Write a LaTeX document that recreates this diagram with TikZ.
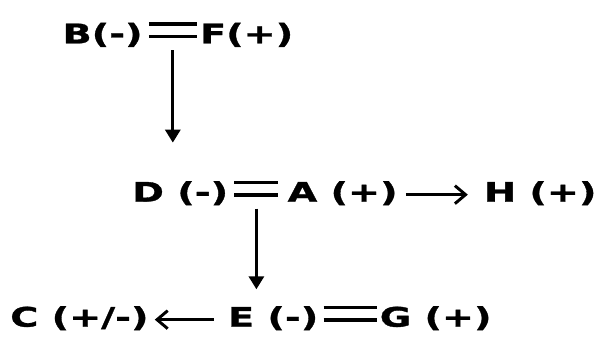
\documentclass[tikz,border=0pt]{standalone}
\usepackage{fontspec}
\setmainfont{DejaVu Sans}[FakeStretch=1.42, BoldFeatures={FakeBold=1.2}]
\usepackage{tikz}
\usetikzlibrary{arrows.meta,positioning,calc}

\begin{document}
\begin{tikzpicture}[
    node distance=1.6cm,
    chem/.style={inner sep=0pt, font=\fontsize{23}{28}\selectfont\bfseries},
    bond/.style={line width=2.9pt},
    arrow/.style={-{Triangle[length=3.9mm, width=4.5mm]}, line width=2.6pt},
    harrow/.style={-{Straight Barb[length=3.2mm, width=5.4mm]}, line width=2.5pt}
]
\useasboundingbox (0,0) rectangle (18,-10.23);

% Top row
\node[chem, anchor=base west] (b) at (1.87,-1.3) {B(-)};
\node[chem, base right=1.71cm of b] (f) {F(+)};

% Middle row
\node[chem, anchor=base west] (d) at (3.96,-6.05) {D (-)};
\node[chem, base right=1.77cm of d] (a) {A (+)};
\node[chem, base right=2.58cm of a] (h) {H (+)};

% Bottom row
\node[chem, anchor=base west] (c) at (0.3,-9.8) {C (+/-)};
\node[chem, base right=2.37cm of c] (e) {E (-)};
\node[chem, base right=1.83cm of e] (g) {G (+)};

% Double bonds
\foreach \dy in {0.2,0.58} {
  \draw[bond] ([shift={(0.18,\dy)}]b.base east) -- ([shift={(-0.09,\dy)}]f.base west);
  \draw[bond] ([shift={(0.18,\dy)}]d.base east) -- ([shift={(-0.27,\dy)}]a.base west);
  \draw[bond] ([shift={(0.15,\dy)}]e.base east) -- ([shift={(-0.09,\dy)}]g.base west);
}
\coordinate (bf) at ($([xshift=0.18cm]b.base east)!0.5!([xshift=-0.09cm]f.base west)$);
\coordinate (da) at ($([xshift=0.18cm]d.base east)!0.5!([xshift=-0.27cm]a.base west)$);

% Arrows
\draw[arrow, shorten >=1.15cm] ([yshift=-0.21cm]bf) -- (bf |- d.north);
\draw[arrow, shorten >=0.5cm] ([yshift=-0.21cm]da) -- (da |- e.north);
\draw[harrow, shorten <=0.24cm, shorten >=0.48cm] ([yshift=0.21cm]a.base east) -- ([yshift=0.21cm]h.base west);
\draw[harrow, shorten <=0.42cm, shorten >=0.18cm] ([yshift=0.21cm]e.base west) -- ([yshift=0.21cm]c.base east);
\end{tikzpicture}
\end{document}
